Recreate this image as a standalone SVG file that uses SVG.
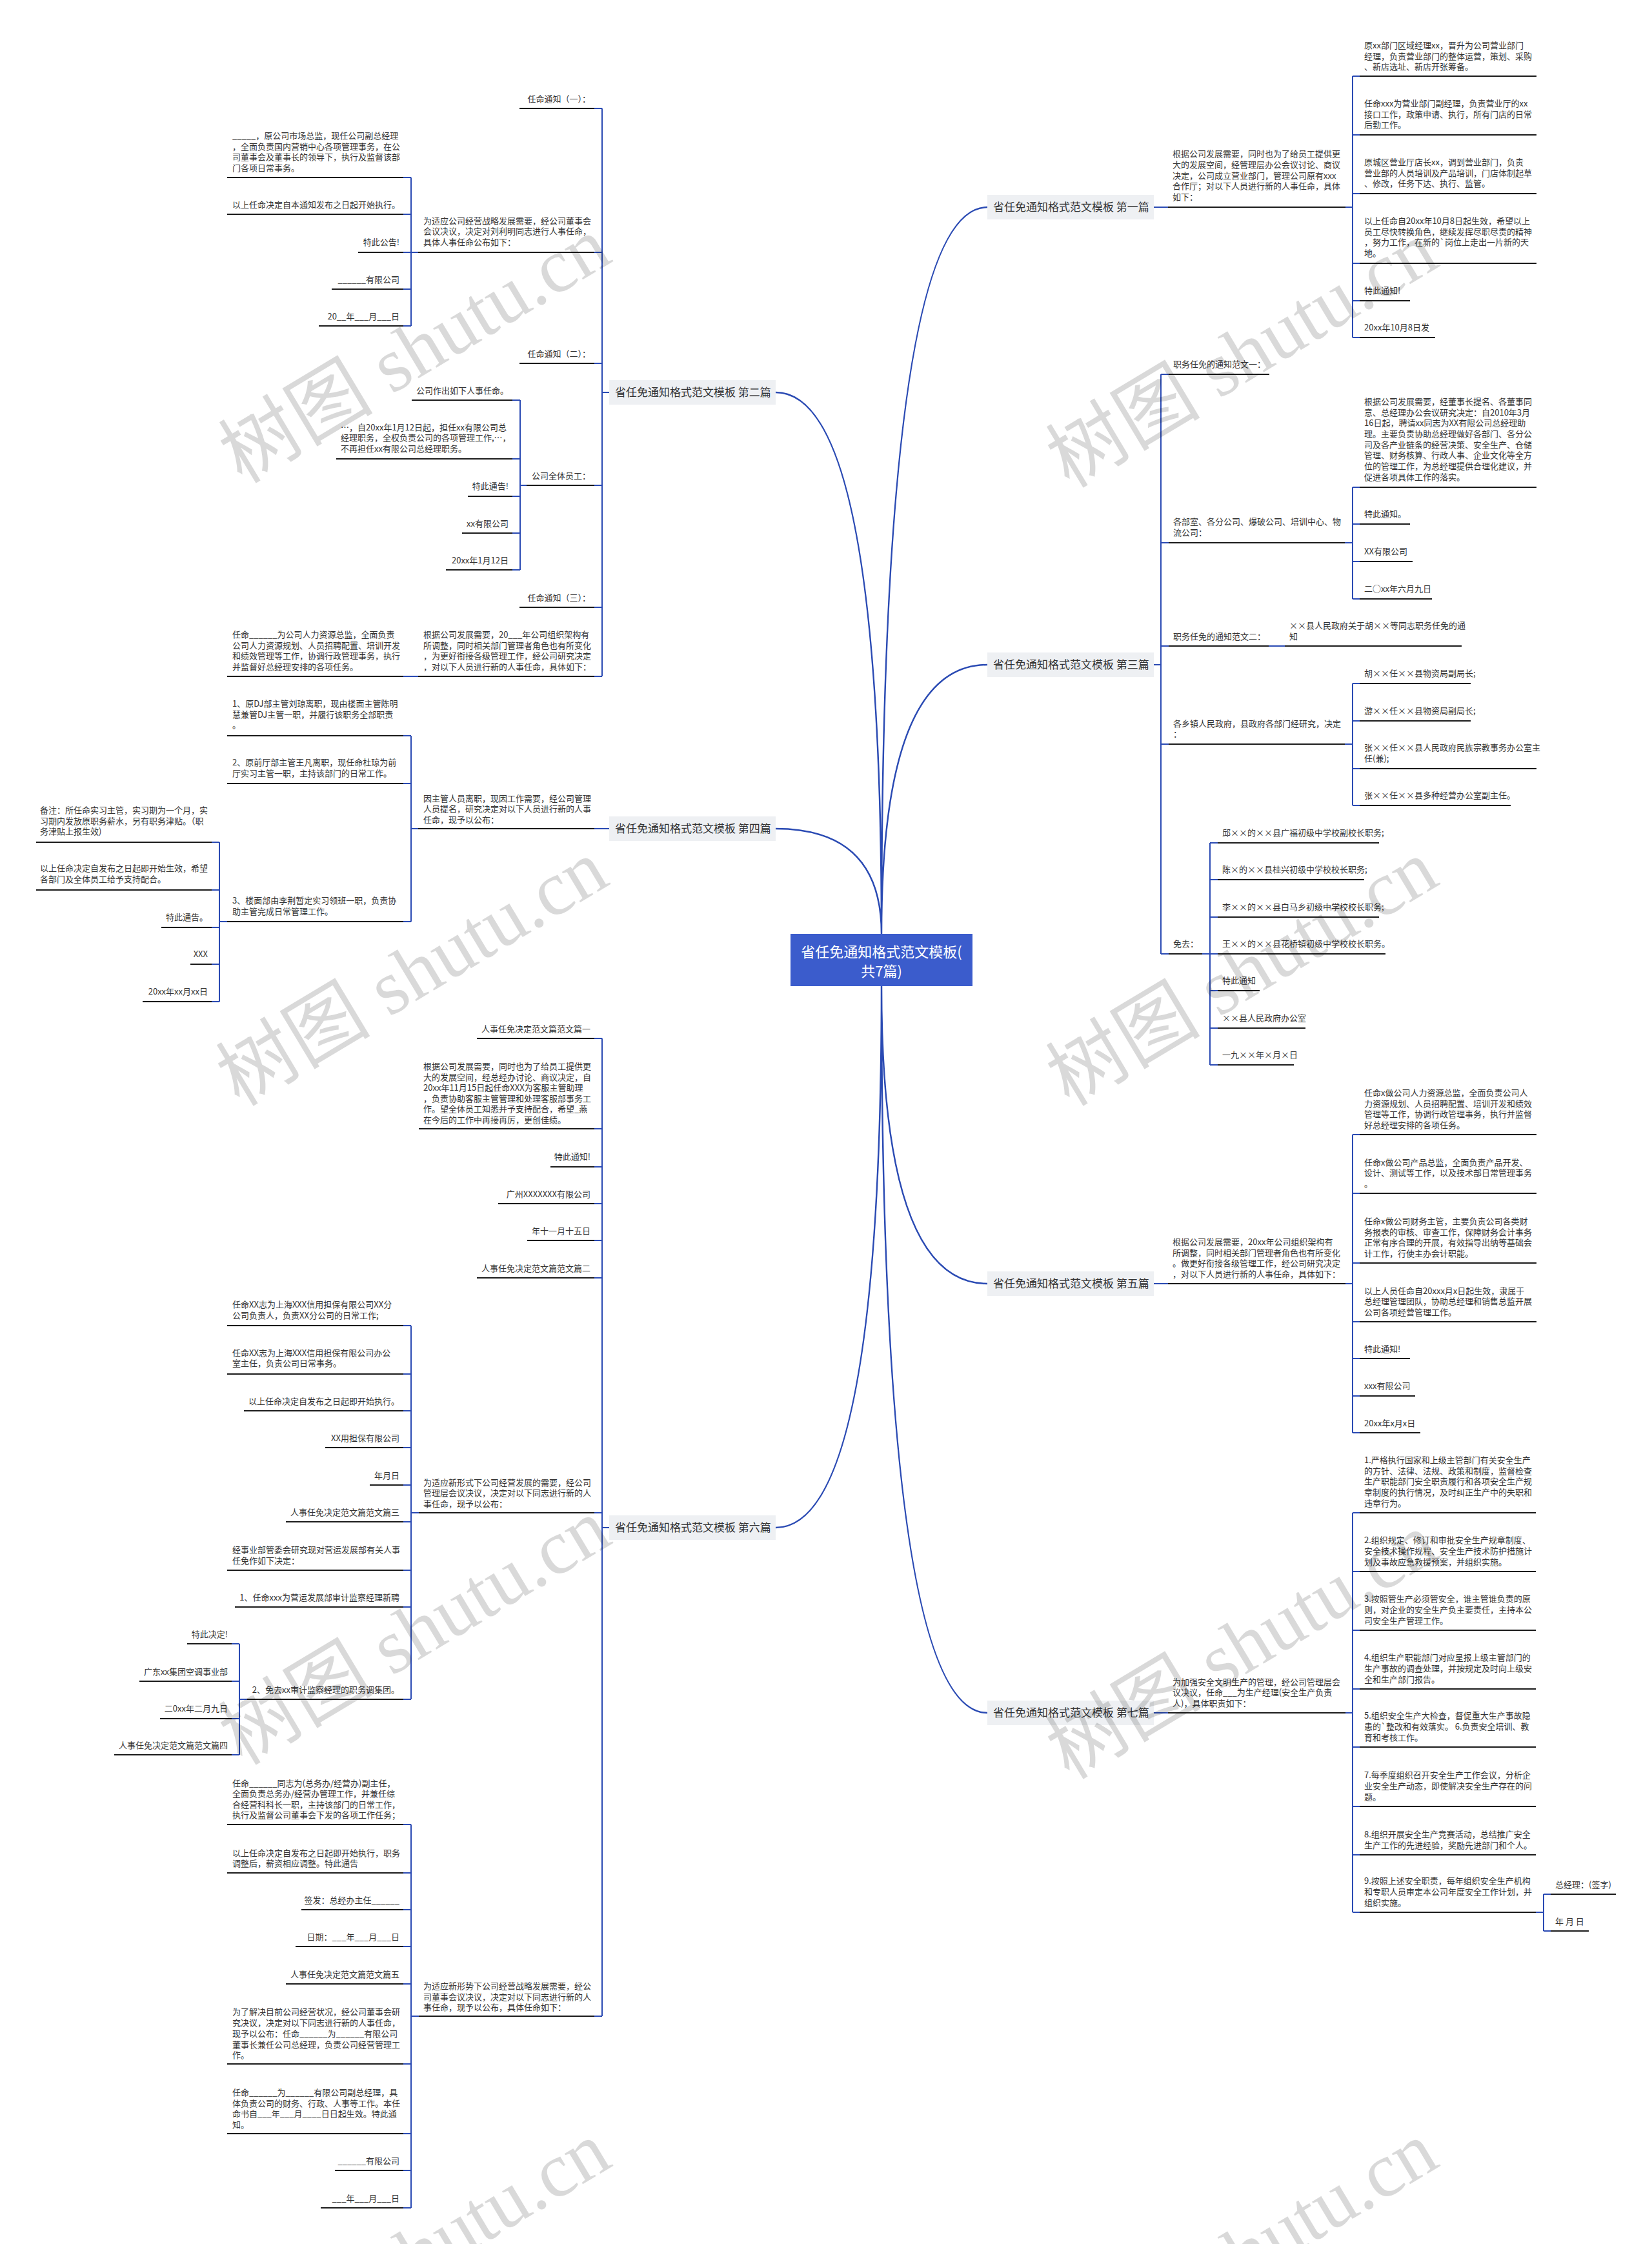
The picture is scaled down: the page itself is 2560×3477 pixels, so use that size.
<svg xmlns="http://www.w3.org/2000/svg" width="2560" height="3477" viewBox="0 0 2560 3477">
<style>
.t{font-family:"Noto Sans CJK SC","Noto Sans",sans-serif;font-size:13px;fill:#333}
.e{text-anchor:end}
.u{stroke:#1a1a1a;stroke-width:2}
.c{fill:none;stroke:#2a4ab3;stroke-width:2}
.rc{fill:none;stroke:#2a4ab3;stroke-width:2.5}
.b rect{fill:#eef0f3}
.b text{font-family:"Noto Sans CJK SC","Noto Sans",sans-serif;font-size:17px;fill:#333}
.wm{font-family:"Liberation Serif","Noto Sans CJK SC",serif;font-size:120px;fill:#000;fill-opacity:.15;text-anchor:middle}
</style>
<rect width="2560" height="3477" fill="#fff"/>

<g id="connectors">
<path class="rc" d="M1366 1447 Q1366 321 1530 321 M1366 1447 Q1366 1030 1530 1030 M1366 1447 Q1366 608 1202 608 M1366 1447 Q1366 1284 1202 1284 M1366 1528 Q1366 1989 1530 1989 M1366 1528 Q1366 2654 1530 2654 M1366 1528 Q1366 2367 1202 2367"/>
<path class="c" d="M1788 321 H1810 M2085 321 H2096 M2096 118 V523 M2096 118 H2107 M2096 209 H2107 M2096 300 H2107 M2096 408 H2107 M2096 466 H2107 M2096 523 H2107"/>
<path class="c" d="M1788 1030 H1799 M1799 580 V1478 M1799 580 H1811 M1799 841 H1811 M1799 1001 H1811 M1799 1153 H1811 M1799 1478 H1811"/>
<path class="c" d="M2084 841 H2096 M2096 755 V928 M2096 755 H2107 M2096 812 H2107 M2096 870 H2107 M2096 928 H2107"/>
<path class="c" d="M1966 1001 H1991"/>
<path class="c" d="M2084 1153 H2096 M2096 1059 V1248 M2096 1059 H2107 M2096 1117 H2107 M2096 1191 H2107 M2096 1248 H2107"/>
<path class="c" d="M1863 1478 H1875 M1875 1306 V1650 M1875 1306 H1887 M1875 1363 H1887 M1875 1421 H1887 M1875 1478 H1887 M1875 1535 H1887 M1875 1593 H1887 M1875 1650 H1887"/>
<path class="c" d="M1788 1989 H1810 M2085 1989 H2096 M2096 1758 V2220 M2096 1758 H2107 M2096 1849 H2107 M2096 1957 H2107 M2096 2048 H2107 M2096 2105 H2107 M2096 2163 H2107 M2096 2220 H2107"/>
<path class="c" d="M1788 2654 H1810 M2085 2654 H2096 M2096 2344 V2963 M2096 2344 H2107 M2096 2435 H2107 M2096 2526 H2107 M2096 2617 H2107 M2096 2707 H2107 M2096 2799 H2107 M2096 2874 H2107 M2096 2963 H2107"/>
<path class="c" d="M2380 2963 H2392 M2392 2935 V2992 M2392 2935 H2403 M2392 2992 H2403"/>
<path class="c" d="M944 608 H933 M933 168 V1048 M933 168 H921 M933 391 H921 M933 563 H921 M933 752 H921 M933 941 H921 M933 1048 H921"/>
<path class="c" d="M648 391 H637 M637 275 V505 M637 275 H625 M637 332 H625 M637 391 H625 M637 448 H625 M637 505 H625"/>
<path class="c" d="M816 752 H806 M806 620 V883 M806 620 H794 M806 711 H794 M806 769 H794 M806 826 H794 M806 883 H794"/>
<path class="c" d="M648 1048 H625"/>
<path class="c" d="M944 1284 H921"/>
<path class="c" d="M648 1284 H637 M637 1140 V1428 M637 1140 H625 M637 1214 H625 M637 1428 H625"/>
<path class="c" d="M352 1428 H340 M340 1305 V1552 M340 1305 H328 M340 1379 H328 M340 1437 H328 M340 1494 H328 M340 1552 H328"/>
<path class="c" d="M944 2367 H933 M933 1609 V3124 M933 1609 H921 M933 1749 H921 M933 1808 H921 M933 1865 H921 M933 1922 H921 M933 1980 H921 M933 2344 H921 M933 3124 H921"/>
<path class="c" d="M649 2344 H637 M637 2054 V2633 M637 2054 H625 M637 2129 H625 M637 2186 H625 M637 2243 H625 M637 2301 H625 M637 2358 H625 M637 2433 H625 M637 2490 H625 M637 2633 H625"/>
<path class="c" d="M383 2633 H371 M371 2547 V2719 M371 2547 H359 M371 2605 H359 M371 2663 H359 M371 2719 H359"/>
<path class="c" d="M649 3124 H637 M637 2827 V3421 M637 2827 H625 M637 2902 H625 M637 2959 H625 M637 3016 H625 M637 3074 H625 M637 3198 H625 M637 3306 H625 M637 3363 H625 M637 3421 H625"/>
</g>

<g id="root"><rect x="1225" y="1447" width="282" height="81" fill="#3b5ccc"/><text x="1366" y="1483" text-anchor="middle" font-family="Noto Sans CJK SC, Noto Sans, sans-serif" font-size="22" fill="#fff">省任免通知格式范文模板(</text><text x="1366" y="1513" text-anchor="middle" font-family="Noto Sans CJK SC, Noto Sans, sans-serif" font-size="22" fill="#fff">共7篇)</text></g>

<g id="b1" class="b"><rect x="1530" y="302" width="258" height="38"/><text x="1539" y="327">省任免通知格式范文模板 第一篇</text></g>
<g id="b3" class="b"><rect x="1530" y="1011" width="258" height="38"/><text x="1539" y="1036">省任免通知格式范文模板 第三篇</text></g>
<g id="b5" class="b"><rect x="1530" y="1970" width="258" height="38"/><text x="1539" y="1995">省任免通知格式范文模板 第五篇</text></g>
<g id="b7" class="b"><rect x="1530" y="2635" width="258" height="38"/><text x="1539" y="2660">省任免通知格式范文模板 第七篇</text></g>
<g id="b2" class="b"><rect x="944" y="589" width="258" height="38"/><text x="953" y="614">省任免通知格式范文模板 第二篇</text></g>
<g id="b4" class="b"><rect x="944" y="1265" width="258" height="38"/><text x="953" y="1290">省任免通知格式范文模板 第四篇</text></g>
<g id="b6" class="b"><rect x="944" y="2348" width="258" height="38"/><text x="953" y="2373">省任免通知格式范文模板 第六篇</text></g>

<!-- 第一篇 -->
<g id="p1"><text class="t"><tspan x="1817" y="243">根据公司发展需要，同时也为了给员工提供更</tspan><tspan x="1817" y="260">大的发展空间，经管理层办公会议讨论、商议</tspan><tspan x="1817" y="277">决定，公司成立营业部门，管理公司原有xxx</tspan><tspan x="1817" y="293">合作厅；对以下人员进行新的人事任命，具体</tspan><tspan x="1817" y="310">如下：</tspan></text><line class="u" x1="1810" y1="321" x2="2085" y2="321"/></g>
<g id="p1c1"><text class="t"><tspan x="2114" y="75">原xx部门区域经理xx，晋升为公司营业部门</tspan><tspan x="2114" y="92">经理，负责营业部门的整体运营，策划、采购</tspan><tspan x="2114" y="108">、新店选址、新店开张筹备。</tspan></text><line class="u" x1="2107" y1="118" x2="2381" y2="118"/></g>
<g id="p1c2"><text class="t"><tspan x="2114" y="165">任命xxx为营业部门副经理，负责营业厅的xx</tspan><tspan x="2114" y="182">接口工作，政策申请、执行，所有门店的日常</tspan><tspan x="2114" y="198">后勤工作。</tspan></text><line class="u" x1="2107" y1="209" x2="2381" y2="209"/></g>
<g id="p1c3"><text class="t"><tspan x="2114" y="256">原城区营业厅店长xx，调到营业部门，负责</tspan><tspan x="2114" y="273">营业部的人员培训及产品培训，门店体制起草</tspan><tspan x="2114" y="289">、修改，任务下达、执行、监管。</tspan></text><line class="u" x1="2107" y1="300" x2="2381" y2="300"/></g>
<g id="p1c4"><text class="t"><tspan x="2114" y="347">以上任命自20xx年10月8日起生效，希望以上</tspan><tspan x="2114" y="364">员工尽快转换角色，继续发挥尽职尽责的精神</tspan><tspan x="2114" y="380">，努力工作，在新的`岗位上走出一片新的天</tspan><tspan x="2114" y="397">地。</tspan></text><line class="u" x1="2107" y1="408" x2="2381" y2="408"/></g>
<g id="p1c5"><text class="t" x="2114" y="455">特此通知!</text><line class="u" x1="2107" y1="466" x2="2185" y2="466"/></g>
<g id="p1c6"><text class="t" x="2114" y="512">20xx年10月8日发</text><line class="u" x1="2107" y1="523" x2="2224" y2="523"/></g>

<!-- 第三篇 -->
<g id="n3a"><text class="t" x="1818" y="569">职务任免的通知范文一：</text><line class="u" x1="1811" y1="580" x2="1967" y2="580"/></g>
<g id="n3b"><text class="t"><tspan x="1818" y="813">各部室、各分公司、爆破公司、培训中心、物</tspan><tspan x="1818" y="830">流公司：</tspan></text><line class="u" x1="1811" y1="841" x2="2084" y2="841"/></g>
<g id="n3b1"><text class="t"><tspan x="2114" y="627">根据公司发展需要，经董事长提名、各董事同</tspan><tspan x="2114" y="644">意、总经理办公会议研究决定：自2010年3月</tspan><tspan x="2114" y="660">16日起，聘请xx同志为XX有限公司总经理助</tspan><tspan x="2114" y="677">理。主要负责协助总经理做好各部门、各分公</tspan><tspan x="2114" y="694">司及各产业链条的经营决策、安全生产、仓储</tspan><tspan x="2114" y="710">管理、财务核算、行政人事、企业文化等全方</tspan><tspan x="2114" y="727">位的管理工作，为总经理提供合理化建议，并</tspan><tspan x="2114" y="744">促进各项具体工作的落实。</tspan></text><line class="u" x1="2107" y1="755" x2="2381" y2="755"/></g>
<g id="n3b2"><text class="t" x="2114" y="801">特此通知。</text><line class="u" x1="2107" y1="812" x2="2185" y2="812"/></g>
<g id="n3b3"><text class="t" x="2114" y="859">XX有限公司</text><line class="u" x1="2107" y1="870" x2="2189" y2="870"/></g>
<g id="n3b4"><text class="t" x="2114" y="917">二○xx年六月九日</text><line class="u" x1="2107" y1="928" x2="2219" y2="928"/></g>
<g id="n3c"><text class="t" x="1818" y="991">职务任免的通知范文二：</text><line class="u" x1="1811" y1="1001" x2="1966" y2="1001"/></g>
<g id="n3c1"><text class="t"><tspan x="1998" y="974">××县人民政府关于胡××等同志职务任免的通</tspan><tspan x="1998" y="991">知</tspan></text><line class="u" x1="1991" y1="1001" x2="2265" y2="1001"/></g>
<g id="n3d"><text class="t"><tspan x="1818" y="1126">各乡镇人民政府，县政府各部门经研究，决定</tspan><tspan x="1818" y="1142">：</tspan></text><line class="u" x1="1811" y1="1153" x2="2084" y2="1153"/></g>
<g id="n3d1"><text class="t" x="2114" y="1048">胡××任××县物资局副局长;</text><line class="u" x1="2107" y1="1059" x2="2279" y2="1059"/></g>
<g id="n3d2"><text class="t" x="2114" y="1106">游××任××县物资局副局长;</text><line class="u" x1="2107" y1="1117" x2="2279" y2="1117"/></g>
<g id="n3d3"><text class="t"><tspan x="2114" y="1163">张××任××县人民政府民族宗教事务办公室主</tspan><tspan x="2114" y="1180">任(兼);</tspan></text><line class="u" x1="2107" y1="1191" x2="2381" y2="1191"/></g>
<g id="n3d4"><text class="t" x="2114" y="1237">张××任××县多种经营办公室副主任。</text><line class="u" x1="2107" y1="1248" x2="2341" y2="1248"/></g>
<g id="n3e"><text class="t" x="1818" y="1467">免去：</text><line class="u" x1="1811" y1="1478" x2="1863" y2="1478"/></g>
<g id="n3e1"><text class="t" x="1894" y="1295">邱××的××县广福初级中学校副校长职务;</text><line class="u" x1="1887" y1="1306" x2="2137" y2="1306"/></g>
<g id="n3e2"><text class="t" x="1894" y="1352">陈×的××县桂兴初级中学校校长职务;</text><line class="u" x1="1887" y1="1363" x2="2114" y2="1363"/></g>
<g id="n3e3"><text class="t" x="1894" y="1410">李××的××县白马乡初级中学校校长职务;</text><line class="u" x1="1887" y1="1421" x2="2137" y2="1421"/></g>
<g id="n3e4"><text class="t" x="1894" y="1467">王××的××县花桥镇初级中学校校长职务。</text><line class="u" x1="1887" y1="1478" x2="2147" y2="1478"/></g>
<g id="n3e5"><text class="t" x="1894" y="1524">特此通知</text><line class="u" x1="1887" y1="1535" x2="1952" y2="1535"/></g>
<g id="n3e6"><text class="t" x="1894" y="1582">××县人民政府办公室</text><line class="u" x1="1887" y1="1593" x2="2023" y2="1593"/></g>
<g id="n3e7"><text class="t" x="1894" y="1639">一九××年×月×日</text><line class="u" x1="1887" y1="1650" x2="2005" y2="1650"/></g>

<!-- 第五篇 -->
<g id="p5"><text class="t"><tspan x="1817" y="1929">根据公司发展需要，20xx年公司组织架构有</tspan><tspan x="1817" y="1946">所调整，同时相关部门管理者角色也有所变化</tspan><tspan x="1817" y="1962">。做更好衔接各级管理工作，经公司研究决定</tspan><tspan x="1817" y="1979">，对以下人员进行新的人事任命，具体如下：</tspan></text><line class="u" x1="1810" y1="1989" x2="2085" y2="1989"/></g>
<g id="p5c1"><text class="t"><tspan x="2114" y="1698">任命x做公司人力资源总监，全面负责公司人</tspan><tspan x="2114" y="1715">力资源规划、人员招聘配置、培训开发和绩效</tspan><tspan x="2114" y="1731">管理等工作，协调行政管理事务，执行并监督</tspan><tspan x="2114" y="1748">好总经理安排的各项任务。</tspan></text><line class="u" x1="2107" y1="1758" x2="2381" y2="1758"/></g>
<g id="p5c2"><text class="t"><tspan x="2114" y="1806">任命x做公司产品总监，全面负责产品开发、</tspan><tspan x="2114" y="1822">设计、测试等工作，以及技术部日常管理事务</tspan><tspan x="2114" y="1839">。</tspan></text><line class="u" x1="2107" y1="1849" x2="2381" y2="1849"/></g>
<g id="p5c3"><text class="t"><tspan x="2114" y="1897">任命x做公司财务主管，主要负责公司各类财</tspan><tspan x="2114" y="1914">务报表的审核、审查工作，保障财务会计事务</tspan><tspan x="2114" y="1930">正常有序合理的开展，有效指导出纳等基础会</tspan><tspan x="2114" y="1947">计工作，行使主办会计职能。</tspan></text><line class="u" x1="2107" y1="1957" x2="2381" y2="1957"/></g>
<g id="p5c4"><text class="t"><tspan x="2114" y="2005">以上人员任命自20xxx月x日起生效，隶属于</tspan><tspan x="2114" y="2021">总经理管理团队，协助总经理和销售总监开展</tspan><tspan x="2114" y="2038">公司各项经营管理工作。</tspan></text><line class="u" x1="2107" y1="2048" x2="2381" y2="2048"/></g>
<g id="p5c5"><text class="t" x="2114" y="2095">特此通知!</text><line class="u" x1="2107" y1="2105" x2="2185" y2="2105"/></g>
<g id="p5c6"><text class="t" x="2114" y="2152">xxx有限公司</text><line class="u" x1="2107" y1="2163" x2="2193" y2="2163"/></g>
<g id="p5c7"><text class="t" x="2114" y="2210">20xx年x月x日</text><line class="u" x1="2107" y1="2220" x2="2201" y2="2220"/></g>

<!-- 第七篇 -->
<g id="p7"><text class="t"><tspan x="1817" y="2611">为加强安全文明生产的管理，经公司管理层会</tspan><tspan x="1817" y="2627">议决议，任命___为生产经理(安全生产负责</tspan><tspan x="1817" y="2644">人)，具体职责如下：</tspan></text><line class="u" x1="1810" y1="2654" x2="2085" y2="2654"/></g>
<g id="p7c1"><text class="t"><tspan x="2114" y="2267">1.严格执行国家和上级主管部门有关安全生产</tspan><tspan x="2114" y="2284">的方针、法律、法规、政策和制度，监督检查</tspan><tspan x="2114" y="2300">生产职能部门安全职责履行和各项安全生产规</tspan><tspan x="2114" y="2317">章制度的执行情况，及时纠正生产中的失职和</tspan><tspan x="2114" y="2334">违章行为。</tspan></text><line class="u" x1="2107" y1="2344" x2="2380" y2="2344"/></g>
<g id="p7c2"><text class="t"><tspan x="2114" y="2391">2.组织规定、修订和审批安全生产规章制度、</tspan><tspan x="2114" y="2408">安全技术操作规程、安全生产技术防护措施计</tspan><tspan x="2114" y="2425">划及事故应急救援预案，并组织实施。</tspan></text><line class="u" x1="2107" y1="2435" x2="2380" y2="2435"/></g>
<g id="p7c3"><text class="t"><tspan x="2114" y="2482">3.按照管生产必须管安全，谁主管谁负责的原</tspan><tspan x="2114" y="2499">则，对企业的安全生产负主要责任，主持本公</tspan><tspan x="2114" y="2516">司安全生产管理工作。</tspan></text><line class="u" x1="2107" y1="2526" x2="2380" y2="2526"/></g>
<g id="p7c4"><text class="t"><tspan x="2114" y="2573">4.组织生产职能部门对应呈报上级主管部门的</tspan><tspan x="2114" y="2590">生产事故的调查处理，并按规定及时向上级安</tspan><tspan x="2114" y="2607">全和生产部门报告。</tspan></text><line class="u" x1="2107" y1="2617" x2="2380" y2="2617"/></g>
<g id="p7c5"><text class="t"><tspan x="2114" y="2663">5.组织安全生产大检查，督促重大生产事故隐</tspan><tspan x="2114" y="2680">患的`整改和有效落实。 6.负责安全培训、教</tspan><tspan x="2114" y="2697">育和考核工作。</tspan></text><line class="u" x1="2107" y1="2707" x2="2380" y2="2707"/></g>
<g id="p7c6"><text class="t"><tspan x="2114" y="2755">7.每季度组织召开安全生产工作会议，分析企</tspan><tspan x="2114" y="2772">业安全生产动态，即使解决安全生产存在的问</tspan><tspan x="2114" y="2789">题。</tspan></text><line class="u" x1="2107" y1="2799" x2="2380" y2="2799"/></g>
<g id="p7c7"><text class="t"><tspan x="2114" y="2847">8.组织开展安全生产竞赛活动，总结推广安全</tspan><tspan x="2114" y="2864">生产工作的先进经验，奖励先进部门和个人。</tspan></text><line class="u" x1="2107" y1="2874" x2="2380" y2="2874"/></g>
<g id="p7c8"><text class="t"><tspan x="2114" y="2919">9.按照上述安全职责，每年组织安全生产机构</tspan><tspan x="2114" y="2936">和专职人员审定本公司年度安全工作计划，并</tspan><tspan x="2114" y="2953">组织实施。</tspan></text><line class="u" x1="2107" y1="2963" x2="2380" y2="2963"/></g>
<g id="p7c8a"><text class="t" x="2410" y="2925">总经理：(签字)</text><line class="u" x1="2403" y1="2935" x2="2504" y2="2935"/></g>
<g id="p7c8b"><text class="t" x="2410" y="2982">年 月 日</text><line class="u" x1="2403" y1="2992" x2="2462" y2="2992"/></g>

<!-- 第二篇 -->
<g id="l2a"><text class="t e" x="915" y="158">任命通知（一）：</text><line class="u" x1="805" y1="168" x2="921" y2="168"/></g>
<g id="l2b"><text class="t"><tspan x="656" y="347">为适应公司经营战略发展需要，经公司董事会</tspan><tspan x="656" y="363">会议决议，决定对刘利明同志进行人事任命，</tspan><tspan x="656" y="380">具体人事任命公布如下：</tspan></text><line class="u" x1="648" y1="391" x2="921" y2="391"/></g>
<g id="l2b1"><text class="t"><tspan x="360" y="215">_____，原公司市场总监，现任公司副总经理</tspan><tspan x="360" y="232">，全面负责国内营销中心各项管理事务，在公</tspan><tspan x="360" y="248">司董事会及董事长的领导下，执行及监督该部</tspan><tspan x="360" y="265">门各项日常事务。</tspan></text><line class="u" x1="352" y1="275" x2="625" y2="275"/></g>
<g id="l2b2"><text class="t" x="360" y="322">以上任命决定自本通知发布之日起开始执行。</text><line class="u" x1="352" y1="332" x2="625" y2="332"/></g>
<g id="l2b3"><text class="t e" x="619" y="380">特此公告!</text><line class="u" x1="555" y1="391" x2="625" y2="391"/></g>
<g id="l2b4"><text class="t e" x="619" y="438">______有限公司</text><line class="u" x1="514" y1="448" x2="625" y2="448"/></g>
<g id="l2b5"><text class="t e" x="619" y="495">20__年___月___日</text><line class="u" x1="494" y1="505" x2="625" y2="505"/></g>
<g id="l2c"><text class="t e" x="915" y="553">任命通知（二）：</text><line class="u" x1="805" y1="563" x2="921" y2="563"/></g>
<g id="l2d"><text class="t e" x="915" y="742">公司全体员工：</text><line class="u" x1="816" y1="752" x2="921" y2="752"/></g>
<g id="l2d1"><text class="t e" x="788" y="610">公司作出如下人事任命。</text><line class="u" x1="638" y1="620" x2="794" y2="620"/></g>
<g id="l2d2"><text class="t"><tspan x="528" y="667">…，自20xx年1月12日起，担任xx有限公司总</tspan><tspan x="528" y="683">经理职务，全权负责公司的各项管理工作,…，</tspan><tspan x="528" y="700">不再担任xx有限公司总经理职务。</tspan></text><line class="u" x1="521" y1="711" x2="794" y2="711"/></g>
<g id="l2d3"><text class="t e" x="788" y="758">特此通告!</text><line class="u" x1="725" y1="769" x2="794" y2="769"/></g>
<g id="l2d4"><text class="t e" x="788" y="816">xx有限公司</text><line class="u" x1="716" y1="826" x2="794" y2="826"/></g>
<g id="l2d5"><text class="t e" x="788" y="873">20xx年1月12日</text><line class="u" x1="691" y1="883" x2="794" y2="883"/></g>
<g id="l2e"><text class="t e" x="915" y="931">任命通知（三）：</text><line class="u" x1="805" y1="941" x2="921" y2="941"/></g>
<g id="l2f"><text class="t"><tspan x="656" y="988">根据公司发展需要，20___年公司组织架构有</tspan><tspan x="656" y="1005">所调整，同时相关部门管理者角色也有所变化</tspan><tspan x="656" y="1021">，为更好衔接各级管理工作，经公司研究决定</tspan><tspan x="656" y="1038">，对以下人员进行新的人事任命，具体如下：</tspan></text><line class="u" x1="648" y1="1048" x2="921" y2="1048"/></g>
<g id="l2f1"><text class="t"><tspan x="360" y="988">任命______为公司人力资源总监，全面负责</tspan><tspan x="360" y="1005">公司人力资源规划、人员招聘配置、培训开发</tspan><tspan x="360" y="1021">和绩效管理等工作，协调行政管理事务，执行</tspan><tspan x="360" y="1038">并监督好总经理安排的各项任务。</tspan></text><line class="u" x1="352" y1="1048" x2="625" y2="1048"/></g>

<!-- 第四篇 -->
<g id="p4"><text class="t"><tspan x="656" y="1242">因主管人员离职，现因工作需要，经公司管理</tspan><tspan x="656" y="1258">人员提名，研究决定对以下人员进行新的人事</tspan><tspan x="656" y="1275">任命，现予以公布：</tspan></text><line class="u" x1="648" y1="1284" x2="921" y2="1284"/></g>
<g id="p4a"><text class="t"><tspan x="360" y="1095">1、原DJ部主管刘琼离职，现由楼面主管陈明</tspan><tspan x="360" y="1112">慧兼管DJ主管一职，并履行该职务全部职责</tspan><tspan x="360" y="1128">。</tspan></text><line class="u" x1="352" y1="1140" x2="625" y2="1140"/></g>
<g id="p4b"><text class="t"><tspan x="360" y="1186">2、原前厅部主管王凡离职，现任命杜琼为前</tspan><tspan x="360" y="1203">厅实习主管一职，主持该部门的日常工作。</tspan></text><line class="u" x1="352" y1="1214" x2="625" y2="1214"/></g>
<g id="p4c"><text class="t"><tspan x="360" y="1400">3、楼面部由李荆暂定实习领班一职，负责协</tspan><tspan x="360" y="1417">助主管完成日常管理工作。</tspan></text><line class="u" x1="352" y1="1428" x2="625" y2="1428"/></g>
<g id="p4c1"><text class="t"><tspan x="62" y="1260">备注：所任命实习主管，实习期为一个月，实</tspan><tspan x="62" y="1277">习期内发放原职务薪水，另有职务津贴。（职</tspan><tspan x="62" y="1293">务津贴上报生效)</tspan></text><line class="u" x1="56" y1="1305" x2="328" y2="1305"/></g>
<g id="p4c2"><text class="t"><tspan x="62" y="1350">以上任命决定自发布之日起即开始生效，希望</tspan><tspan x="62" y="1367">各部门及全体员工给予支持配合。</tspan></text><line class="u" x1="56" y1="1379" x2="328" y2="1379"/></g>
<g id="p4c3"><text class="t e" x="322" y="1426">特此通告。</text><line class="u" x1="250" y1="1437" x2="328" y2="1437"/></g>
<g id="p4c4"><text class="t e" x="322" y="1483">XXX</text><line class="u" x1="295" y1="1494" x2="328" y2="1494"/></g>
<g id="p4c5"><text class="t e" x="322" y="1541">20xx年xx月xx日</text><line class="u" x1="221" y1="1552" x2="328" y2="1552"/></g>

<!-- 第六篇 -->
<g id="l6a"><text class="t e" x="915" y="1599">人事任免决定范文篇范文篇一</text><line class="u" x1="739" y1="1609" x2="921" y2="1609"/></g>
<g id="l6b"><text class="t"><tspan x="656" y="1657">根据公司发展需要，同时也为了给员工提供更</tspan><tspan x="656" y="1674">大的发展空间，经总经办讨论、商议决定，自</tspan><tspan x="656" y="1690">20xx年11月15日起任命XXX为客服主管助理</tspan><tspan x="656" y="1707">，负责协助客服主管管理和处理客服部事务工</tspan><tspan x="656" y="1723">作。望全体员工知悉并予支持配合，希望_燕</tspan><tspan x="656" y="1740">在今后的工作中再接再厉，更创佳绩。</tspan></text><line class="u" x1="649" y1="1749" x2="921" y2="1749"/></g>
<g id="l6c"><text class="t e" x="915" y="1797">特此通知!</text><line class="u" x1="853" y1="1808" x2="921" y2="1808"/></g>
<g id="l6d"><text class="t e" x="915" y="1855">广州XXXXXXX有限公司</text><line class="u" x1="772" y1="1865" x2="921" y2="1865"/></g>
<g id="l6e"><text class="t e" x="915" y="1912">年十一月十五日</text><line class="u" x1="817" y1="1922" x2="921" y2="1922"/></g>
<g id="l6f"><text class="t e" x="915" y="1970">人事任免决定范文篇范文篇二</text><line class="u" x1="739" y1="1980" x2="921" y2="1980"/></g>
<g id="l6g"><text class="t"><tspan x="656" y="2302">为适应新形式下公司经营发展的需要，经公司</tspan><tspan x="656" y="2318">管理层会议决议，决定对以下同志进行新的人</tspan><tspan x="656" y="2335">事任命，现予以公布：</tspan></text><line class="u" x1="649" y1="2344" x2="921" y2="2344"/></g>
<g id="l6g1"><text class="t"><tspan x="360" y="2026">任命XX志为上海XXX信用担保有限公司XX分</tspan><tspan x="360" y="2043">公司负责人，负责XX分公司的日常工作;</tspan></text><line class="u" x1="352" y1="2054" x2="625" y2="2054"/></g>
<g id="l6g2"><text class="t"><tspan x="360" y="2101">任命XX志为上海XXX信用担保有限公司办公</tspan><tspan x="360" y="2117">室主任，负责公司日常事务。</tspan></text><line class="u" x1="352" y1="2129" x2="625" y2="2129"/></g>
<g id="l6g3"><text class="t e" x="619" y="2176">以上任命决定自发布之日起即开始执行。</text><line class="u" x1="378" y1="2186" x2="625" y2="2186"/></g>
<g id="l6g4"><text class="t e" x="619" y="2233">XX用担保有限公司</text><line class="u" x1="504" y1="2243" x2="625" y2="2243"/></g>
<g id="l6g5"><text class="t e" x="619" y="2291">年月日</text><line class="u" x1="573" y1="2301" x2="625" y2="2301"/></g>
<g id="l6g6"><text class="t e" x="619" y="2348">人事任免决定范文篇范文篇三</text><line class="u" x1="443" y1="2358" x2="625" y2="2358"/></g>
<g id="l6g7"><text class="t"><tspan x="360" y="2406">经事业部管委会研究现对营运发展部有关人事</tspan><tspan x="360" y="2423">任免作如下决定：</tspan></text><line class="u" x1="352" y1="2433" x2="625" y2="2433"/></g>
<g id="l6g8"><text class="t e" x="619" y="2480">1、任命xxx为营运发展部审计监察经理新聘</text><line class="u" x1="364" y1="2490" x2="625" y2="2490"/></g>
<g id="l6g9"><text class="t e" x="619" y="2623">2、免去xx审计监察经理的职务调集团。</text><line class="u" x1="383" y1="2633" x2="625" y2="2633"/></g>
<g id="l6g9a"><text class="t e" x="353" y="2537">特此决定!</text><line class="u" x1="290" y1="2547" x2="359" y2="2547"/></g>
<g id="l6g9b"><text class="t e" x="353" y="2595">广东xx集团空调事业部</text><line class="u" x1="216" y1="2605" x2="359" y2="2605"/></g>
<g id="l6g9c"><text class="t e" x="353" y="2652">二0xx年二月九日</text><line class="u" x1="248" y1="2663" x2="359" y2="2663"/></g>
<g id="l6g9d"><text class="t e" x="353" y="2709">人事任免决定范文篇范文篇四</text><line class="u" x1="177" y1="2719" x2="359" y2="2719"/></g>
<g id="l6h"><text class="t"><tspan x="656" y="3082">为适应新形势下公司经营战略发展需要，经公</tspan><tspan x="656" y="3099">司董事会议决议，决定对以下同志进行新的人</tspan><tspan x="656" y="3115">事任命，现予以公布，具体任命如下：</tspan></text><line class="u" x1="649" y1="3124" x2="921" y2="3124"/></g>
<g id="l6h1"><text class="t"><tspan x="360" y="2768">任命______同志为(总务办/经营办)副主任，</tspan><tspan x="360" y="2784">全面负责总务办/经营办管理工作，并兼任综</tspan><tspan x="360" y="2801">合经营科科长一职，主持该部门的日常工作，</tspan><tspan x="360" y="2817">执行及监督公司董事会下发的各项工作任务；</tspan></text><line class="u" x1="352" y1="2827" x2="625" y2="2827"/></g>
<g id="l6h2"><text class="t"><tspan x="360" y="2876">以上任命决定自发布之日起即开始执行，职务</tspan><tspan x="360" y="2892">调整后，薪资相应调整。特此通告</tspan></text><line class="u" x1="352" y1="2902" x2="625" y2="2902"/></g>
<g id="l6h3"><text class="t e" x="619" y="2949">签发：总经办主任______</text><line class="u" x1="467" y1="2959" x2="625" y2="2959"/></g>
<g id="l6h4"><text class="t e" x="619" y="3006">日期：___年___月___日</text><line class="u" x1="458" y1="3016" x2="625" y2="3016"/></g>
<g id="l6h5"><text class="t e" x="619" y="3064">人事任免决定范文篇范文篇五</text><line class="u" x1="443" y1="3074" x2="625" y2="3074"/></g>
<g id="l6h6"><text class="t"><tspan x="360" y="3122">为了解决目前公司经营状况，经公司董事会研</tspan><tspan x="360" y="3139">究决议，决定对以下同志进行新的人事任命，</tspan><tspan x="360" y="3156">现予以公布：任命______为______有限公司</tspan><tspan x="360" y="3173">董事长兼任公司总经理，负责公司经营管理工</tspan><tspan x="360" y="3189">作。</tspan></text><line class="u" x1="352" y1="3198" x2="625" y2="3198"/></g>
<g id="l6h7"><text class="t"><tspan x="360" y="3247">任命______为______有限公司副总经理，具</tspan><tspan x="360" y="3264">体负责公司的财务、行政、人事等工作。本任</tspan><tspan x="360" y="3280">命书自___年___月____日日起生效。特此通</tspan><tspan x="360" y="3297">知。</tspan></text><line class="u" x1="352" y1="3306" x2="625" y2="3306"/></g>
<g id="l6h8"><text class="t e" x="619" y="3353">______有限公司</text><line class="u" x1="519" y1="3363" x2="625" y2="3363"/></g>
<g id="l6h9"><text class="t e" x="619" y="3411">___年___月___日</text><line class="u" x1="497" y1="3421" x2="625" y2="3421"/></g>

<g id="watermark">
<text class="wm" transform="translate(643 543) rotate(-31)" y="40">树图 shutu.cn</text>
<text class="wm" transform="translate(1925 550) rotate(-31)" y="40">树图 shutu.cn</text>
<text class="wm" transform="translate(639 1508) rotate(-31)" y="40">树图 shutu.cn</text>
<text class="wm" transform="translate(1925 1508) rotate(-31)" y="40">树图 shutu.cn</text>
<text class="wm" transform="translate(643 2529) rotate(-31)" y="40">树图 shutu.cn</text>
<text class="wm" transform="translate(1925 2551) rotate(-31)" y="40">树图 shutu.cn</text>
<text class="wm" transform="translate(643 3494) rotate(-31)" y="40">树图 shutu.cn</text>
<text class="wm" transform="translate(1925 3494) rotate(-31)" y="40">树图 shutu.cn</text>
</g>
</svg>
